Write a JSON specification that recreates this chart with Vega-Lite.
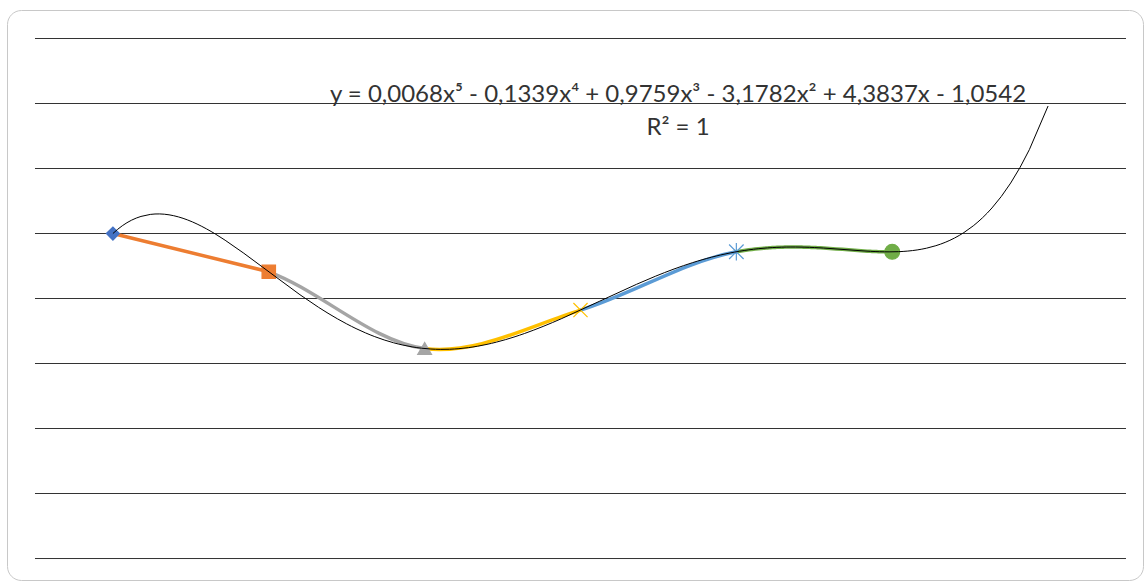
{
  "$schema": "https://vega.github.io/schema/vega-lite/v6.json",
  "width": 1136,
  "height": 570,
  "autosize": {"type": "none"},
  "padding": {"left": 7, "top": 10, "right": 1, "bottom": 2},
  "background": "white",
  "config": {"view": {"stroke": "#c8c8c8", "strokeWidth": 1, "cornerRadius": 14}},
  "datasets": {
    "points": [
      {"x": 1, "y": 1.0},
      {"x": 2, "y": 0.8822},
      {"x": 3, "y": 0.6461},
      {"x": 4, "y": 0.7643},
      {"x": 5, "y": 0.9438},
      {"x": 6, "y": 0.9436}
    ],
    "grid": [
      {"v": 0}, {"v": 0.2}, {"v": 0.4}, {"v": 0.6}, {"v": 0.8},
      {"v": 1.0}, {"v": 1.2}, {"v": 1.4}, {"v": 1.6}
    ],
    "note": [
      {"label": "y = 0,0068x⁵ - 0,1339x⁴ + 0,9759x³ - 3,1782x² + 4,3837x - 1,0542\nR² = 1"}
    ]
  },
  "layer": [
    {
      "data": {"name": "grid"},
      "mark": {"type": "rule", "color": "#333333", "strokeWidth": 1},
      "encoding": {
        "x": {"datum": 0.5, "type": "quantitative", "scale": {"domain": [0.3204, 7.6091], "nice": false, "zero": false}, "axis": null},
        "x2": {"datum": 7.5},
        "y": {"field": "v", "type": "quantitative", "scale": {"domain": [-0.0661, 1.6877], "nice": false, "zero": false}, "axis": null}
      }
    },
    {
      "data": {"name": "points"},
      "transform": [{"filter": "datum.x <= 2"}],
      "mark": {"type": "line", "color": "#ED7D31", "strokeWidth": 3.5},
      "encoding": {
        "x": {"field": "x", "type": "quantitative", "axis": null},
        "y": {"field": "y", "type": "quantitative", "axis": null}
      }
    },
    {
      "data": {"name": "points"},
      "transform": [{"filter": "datum.x <= 4"}],
      "mark": {"type": "line", "color": "#A5A5A5", "strokeWidth": 3.5, "interpolate": "cardinal-open", "tension": 0},
      "encoding": {
        "x": {"field": "x", "type": "quantitative", "axis": null},
        "y": {"field": "y", "type": "quantitative", "axis": null}
      }
    },
    {
      "data": {"name": "points"},
      "transform": [{"filter": "datum.x >= 2 && datum.x <= 5"}],
      "mark": {"type": "line", "color": "#FFC000", "strokeWidth": 3.5, "interpolate": "cardinal-open", "tension": 0},
      "encoding": {
        "x": {"field": "x", "type": "quantitative", "axis": null},
        "y": {"field": "y", "type": "quantitative", "axis": null}
      }
    },
    {
      "data": {"name": "points"},
      "transform": [{"filter": "datum.x >= 3"}],
      "mark": {"type": "line", "color": "#5B9BD5", "strokeWidth": 3.5, "interpolate": "cardinal-open", "tension": 0},
      "encoding": {
        "x": {"field": "x", "type": "quantitative", "axis": null},
        "y": {"field": "y", "type": "quantitative", "axis": null}
      }
    },
    {
      "data": {"name": "points"},
      "transform": [{"regression": "y", "on": "x", "method": "poly", "order": 5, "extent": [5, 6]}],
      "mark": {"type": "line", "color": "#70AD47", "strokeWidth": 3.5},
      "encoding": {
        "x": {"field": "x", "type": "quantitative", "axis": null},
        "y": {"field": "y", "type": "quantitative", "axis": null}
      }
    },
    {
      "data": {"name": "points"},
      "mark": {"type": "point", "filled": true, "opacity": 1, "strokeWidth": 1.2},
      "encoding": {
        "x": {"field": "x", "type": "quantitative", "axis": null},
        "y": {"field": "y", "type": "quantitative", "axis": null},
        "shape": {"field": "x", "type": "nominal", "legend": null, "scale": {"domain": [1, 2, 3, 4, 5, 6], "range": ["diamond", "square", "triangle-up", "M-1,-1L1,1M-1,1L1,-1", "M-1,-1L1,1M-1,1L1,-1M0,-1.2L0,1.2", "circle"]}},
        "fill": {"field": "x", "type": "nominal", "legend": null, "scale": {"domain": [1, 2, 3, 4, 5, 6], "range": ["#4472C4", "#ED7D31", "#A5A5A5", "#FFC000", "#5B9BD5", "#70AD47"]}},
        "stroke": {"field": "x", "type": "nominal", "legend": null, "scale": {"domain": [1, 2, 3, 4, 5, 6], "range": ["#4472C4", "#ED7D31", "#A5A5A5", "#FFC000", "#5B9BD5", "#70AD47"]}},
        "size": {"field": "x", "type": "ordinal", "legend": null, "scale": {"domain": [1, 2, 3, 4, 5, 6], "range": [170, 220, 230, 220, 190, 170]}}
      }
    },
    {
      "data": {"name": "points"},
      "transform": [{"regression": "y", "on": "x", "method": "poly", "order": 5, "extent": [1, 7]}],
      "mark": {"type": "line", "color": "#000000", "strokeWidth": 1},
      "encoding": {
        "x": {"field": "x", "type": "quantitative", "axis": null},
        "y": {"field": "y", "type": "quantitative", "axis": null}
      }
    },
    {
      "data": {"name": "note"},
      "mark": {"type": "text", "font": "Lato", "fontSize": 24, "color": "#333333", "align": "center", "baseline": "alphabetic", "lineBreak": "\n", "lineHeight": 33},
      "encoding": {
        "x": {"datum": 4.6255, "type": "quantitative", "axis": null},
        "y": {"datum": 1.4031, "type": "quantitative", "axis": null},
        "text": {"field": "label", "type": "nominal"}
      }
    }
  ]
}
